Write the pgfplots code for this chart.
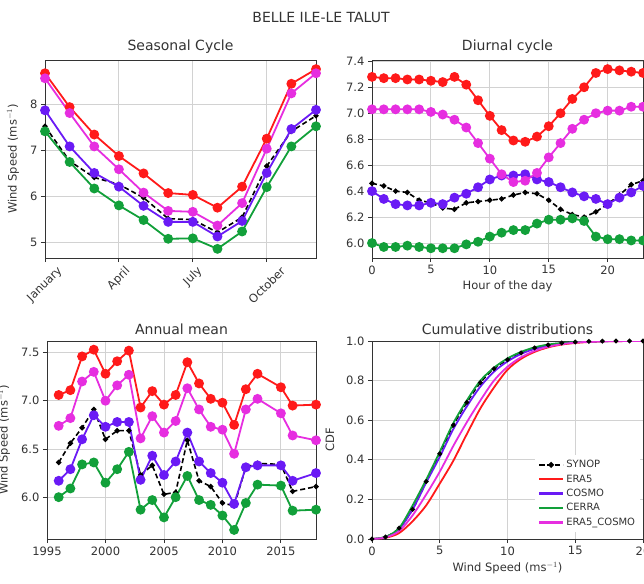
\documentclass[border=0pt]{standalone}
\usepackage{fontspec}
\setmainfont{DejaVu Sans}
\usepackage{graphicx}
\usepackage{pgfplots}
\pgfplotsset{compat=1.18}

\definecolor{cRed}{HTML}{FF1A1A}
\definecolor{cMag}{HTML}{E62EE0}
\definecolor{cBlue}{HTML}{6A1AF5}
\definecolor{cGreen}{HTML}{12A03A}
\definecolor{txt}{HTML}{333333}

\pgfplotsset{
  base/.style={
    scale only axis, width=271pt, height=198pt, anchor=north west,
    axis line style={txt, line width=0.9pt},
    grid=major, grid style={gray!35, line width=0.9pt},
    tick align=outside, tick pos=left,
    major tick length=4pt,
    every tick/.style={txt, line width=0.9pt},
    tick label style={font=\fontsize{11.5}{13}\selectfont, text=txt},
    label style={font=\fontsize{11.5}{13}\selectfont, text=txt},
    title style={font=\fontsize{14}{16}\selectfont, text=txt, yshift=-3pt},
    /pgf/number format/assume math mode=true,
    /pgf/number format/1000 sep={},
  },
  syn/.style={black, line width=1.6pt, dash pattern=on 5pt off 3pt, mark=*, mark size=1.8pt, mark options={solid}},
  era/.style={cRed, line width=1.8pt, mark=*, mark size=4pt},
  cos/.style={cBlue, line width=1.8pt, mark=*, mark size=4pt},
  cer/.style={cGreen, line width=1.8pt, mark=*, mark size=4pt},
  erc/.style={cMag, line width=1.8pt, mark=*, mark size=4pt},
}

\begin{document}
\begin{tikzpicture}

\node[font=\fontsize{14}{16}\selectfont, text=txt] at (321pt,-17pt) {BELLE ILE-LE TALUT};

% Seasonal cycle
\begin{axis}[base, at={(45pt,-60pt)},
  title={Seasonal Cycle},
  xmin=1, xmax=12, ymin=4.65, ymax=8.98,
  xtick={1,4,7,10},
  xticklabels={\rotatebox{45}{January},\rotatebox{45}{April},\rotatebox{45}{July},\rotatebox{45}{October}},
  xticklabel style={anchor=north},
  ytick={5,6,7,8},
  ylabel={Wind Speed (ms$^{-1}$)},
  ylabel style={at={(axis description cs:-0.118,0.5)}, anchor=center},
]
\addplot[syn] coordinates {(1,7.53)(2,6.77)(3,6.41)(4,6.26)(5,5.97)(6,5.51)(7,5.49)(8,5.21)(9,5.54)(10,6.66)(11,7.42)(12,7.76)};
\addplot[era] coordinates {(1,8.69)(2,7.95)(3,7.35)(4,6.88)(5,6.50)(6,6.07)(7,6.03)(8,5.75)(9,6.21)(10,7.26)(11,8.46)(12,8.78)};
\addplot[cos] coordinates {(1,7.88)(2,7.09)(3,6.51)(4,6.21)(5,5.79)(6,5.44)(7,5.44)(8,5.12)(9,5.46)(10,6.51)(11,7.47)(12,7.89)};
\addplot[cer] coordinates {(1,7.42)(2,6.75)(3,6.17)(4,5.80)(5,5.48)(6,5.07)(7,5.08)(8,4.85)(9,5.23)(10,6.20)(11,7.09)(12,7.53)};
\addplot[erc] coordinates {(1,8.58)(2,7.82)(3,7.09)(4,6.59)(5,6.08)(6,5.68)(7,5.66)(8,5.36)(9,5.85)(10,7.04)(11,8.25)(12,8.69)};
\end{axis}

% Diurnal cycle
\begin{axis}[base, at={(372pt,-60pt)},
  title={Diurnal cycle},
  xmin=0, xmax=23, ymin=5.885, ymax=7.41,
  xtick={0,5,10,15,20},
  ytick={6,6.2,6.4,6.6,6.8,7,7.2,7.4},
  yticklabel style={/pgf/number format/.cd, fixed, fixed zerofill, precision=1},
  xlabel={Hour of the day},
]
\addplot[syn] coordinates {(0,6.46)(1,6.44)(2,6.40)(3,6.39)(4,6.33)(5,6.31)(6,6.27)(7,6.26)(8,6.31)(9,6.32)(10,6.33)(11,6.34)(12,6.37)(13,6.39)(14,6.38)(15,6.33)(16,6.26)(17,6.22)(18,6.20)(19,6.24)(20,6.30)(21,6.37)(22,6.45)(23,6.48)};
\addplot[era] coordinates {(0,7.28)(1,7.27)(2,7.27)(3,7.26)(4,7.26)(5,7.25)(6,7.24)(7,7.28)(8,7.22)(9,7.10)(10,6.98)(11,6.87)(12,6.79)(13,6.78)(14,6.82)(15,6.90)(16,7.00)(17,7.11)(18,7.20)(19,7.31)(20,7.34)(21,7.33)(22,7.32)(23,7.31)};
\addplot[cos] coordinates {(0,6.40)(1,6.34)(2,6.30)(3,6.29)(4,6.29)(5,6.31)(6,6.30)(7,6.35)(8,6.38)(9,6.43)(10,6.49)(11,6.52)(12,6.52)(13,6.53)(14,6.49)(15,6.47)(16,6.43)(17,6.39)(18,6.36)(19,6.34)(20,6.30)(21,6.35)(22,6.39)(23,6.44)};
\addplot[cer] coordinates {(0,6.00)(1,5.97)(2,5.97)(3,5.98)(4,5.97)(5,5.96)(6,5.96)(7,5.96)(8,5.99)(9,6.01)(10,6.05)(11,6.08)(12,6.10)(13,6.10)(14,6.15)(15,6.18)(16,6.18)(17,6.19)(18,6.17)(19,6.05)(20,6.03)(21,6.03)(22,6.02)(23,6.02)};
\addplot[erc] coordinates {(0,7.03)(1,7.03)(2,7.03)(3,7.03)(4,7.03)(5,7.01)(6,6.99)(7,6.95)(8,6.89)(9,6.77)(10,6.65)(11,6.53)(12,6.47)(13,6.48)(14,6.54)(15,6.66)(16,6.77)(17,6.88)(18,6.95)(19,7.00)(20,7.02)(21,7.02)(22,7.05)(23,7.05)};
\end{axis}

% Annual mean
\begin{axis}[base, at={(47pt,-341pt)}, width=269pt,
  title={Annual mean},
  xmin=1995, xmax=2018, ymin=5.566, ymax=7.62,
  xtick={1995,2000,2005,2010,2015},
  ytick={6,6.5,7,7.5},
  yticklabel style={/pgf/number format/.cd, fixed, fixed zerofill, precision=1},
  ylabel={Wind Speed (ms$^{-1}$)},
  ylabel style={at={(axis description cs:-0.16,0.5)}, anchor=center},
]
\addplot[syn] coordinates {(1996,6.36)(1997,6.56)(1998,6.72)(1999,6.91)(2000,6.60)(2001,6.69)(2002,6.69)(2003,6.23)(2004,6.33)(2005,6.03)(2006,6.05)(2007,6.59)(2008,6.17)(2009,6.11)(2010,5.94)(2011,5.91)(2012,6.31)(2013,6.35)(2015,6.34)(2016,6.06)(2018,6.11)};
\addplot[era] coordinates {(1996,7.06)(1997,7.11)(1998,7.46)(1999,7.53)(2000,7.28)(2001,7.41)(2002,7.52)(2003,6.93)(2004,7.10)(2005,6.96)(2006,7.06)(2007,7.40)(2008,7.18)(2009,7.02)(2010,6.98)(2011,6.75)(2012,7.12)(2013,7.28)(2015,7.14)(2016,6.95)(2018,6.96)};
\addplot[cos] coordinates {(1996,6.17)(1997,6.29)(1998,6.60)(1999,6.85)(2000,6.73)(2001,6.78)(2002,6.78)(2003,6.18)(2004,6.43)(2005,6.23)(2006,6.37)(2007,6.67)(2008,6.37)(2009,6.25)(2010,6.15)(2011,5.93)(2012,6.31)(2013,6.33)(2015,6.33)(2016,6.17)(2018,6.25)};
\addplot[cer] coordinates {(1996,6.00)(1997,6.09)(1998,6.34)(1999,6.36)(2000,6.15)(2001,6.29)(2002,6.47)(2003,5.87)(2004,5.97)(2005,5.79)(2006,6.00)(2007,6.22)(2008,5.97)(2009,5.92)(2010,5.81)(2011,5.66)(2012,5.94)(2013,6.13)(2015,6.12)(2016,5.86)(2018,5.87)};
\addplot[erc] coordinates {(1996,6.74)(1997,6.82)(1998,7.20)(1999,7.30)(2000,7.00)(2001,7.16)(2002,7.27)(2003,6.61)(2004,6.84)(2005,6.67)(2006,6.79)(2007,7.13)(2008,6.91)(2009,6.73)(2010,6.70)(2011,6.45)(2012,6.91)(2013,7.02)(2015,6.87)(2016,6.64)(2018,6.59)};
\end{axis}

% Cumulative distributions
\begin{axis}[base, at={(372pt,-341pt)},
  title={Cumulative distributions},
  xmin=0, xmax=20, ymin=0, ymax=1,
  xtick={0,5,10,15,20},
  ytick={0,0.2,0.4,0.6,0.8,1},
  yticklabel style={/pgf/number format/.cd, fixed, fixed zerofill, precision=1},
  xlabel={Wind Speed (ms$^{-1}$)},
  ylabel={CDF},
  ylabel style={at={(axis description cs:-0.155,0.5)}, anchor=center},
  legend style={at={(axis description cs:0.99,0.035)}, anchor=south east,
    draw=none, fill=white, font=\fontsize{10}{12}\selectfont, text=txt,
    row sep=1.5pt, inner sep=3pt},
  legend cell align=left,
  legend image code/.code={\draw[mark repeat=2, mark phase=2, #1, line width=2.4pt] plot coordinates {(0pt,0pt) (12pt,0pt) (24pt,0pt)};},
]
\addplot[syn, mark size=1.5pt, smooth] coordinates {(0,0)(1,0.01)(2,0.055)(3,0.15)(4,0.29)(5,0.43)(6,0.575)(7,0.69)(8,0.79)(9,0.86)(10,0.905)(11,0.94)(12,0.965)(13,0.98)(14,0.99)(15,0.995)(16,0.998)(17,0.999)(18,1)(19,1)(20,1)};
\addlegendentry{SYNOP}
\addplot[cRed, line width=1.8pt, smooth] coordinates {(0,0)(1,0.006)(2,0.03)(3,0.09)(4,0.17)(5,0.28)(6,0.395)(7,0.53)(8,0.66)(9,0.765)(10,0.855)(11,0.91)(12,0.945)(13,0.968)(14,0.982)(15,0.99)(16,0.995)(17,0.998)(18,0.999)(19,1)(20,1)};
\addlegendentry{ERA5}
\addplot[cBlue, line width=1.8pt, smooth] coordinates {(0,0)(1,0.01)(2,0.05)(3,0.15)(4,0.285)(5,0.415)(6,0.555)(7,0.67)(8,0.77)(9,0.845)(10,0.897)(11,0.935)(12,0.96)(13,0.977)(14,0.988)(15,0.994)(16,0.997)(17,0.999)(18,1)(19,1)(20,1)};
\addlegendentry{COSMO}
\addplot[cGreen, line width=1.8pt, smooth] coordinates {(0,0)(1,0.011)(2,0.055)(3,0.17)(4,0.30)(5,0.44)(6,0.585)(7,0.70)(8,0.80)(9,0.865)(10,0.912)(11,0.945)(12,0.968)(13,0.982)(14,0.99)(15,0.995)(16,0.998)(17,0.999)(18,1)(19,1)(20,1)};
\addlegendentry{CERRA}
\addplot[cMag, line width=1.8pt, smooth] coordinates {(0,0)(1,0.008)(2,0.04)(3,0.12)(4,0.225)(5,0.34)(6,0.47)(7,0.59)(8,0.70)(9,0.80)(10,0.87)(11,0.918)(12,0.95)(13,0.971)(14,0.984)(15,0.992)(16,0.996)(17,0.998)(18,0.999)(19,1)(20,1)};
\addlegendentry{ERA5\_COSMO}
\end{axis}

\pgfresetboundingbox
\path[use as bounding box] (0pt,0pt) rectangle (644pt,-583pt);
\end{tikzpicture}
\end{document}
